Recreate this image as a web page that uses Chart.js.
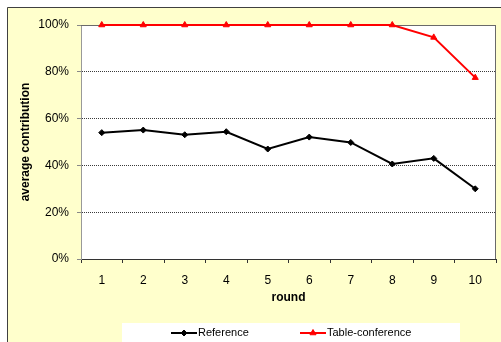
<!DOCTYPE html>
<html>
<head>
<meta charset="utf-8">
<script src="https://cdn.jsdelivr.net/npm/chart.js@4/dist/chart.umd.min.js"></script>
<style>
  html, body { margin: 0; padding: 0; background: #ffffff; }
  #wrap { width: 501px; height: 342px; position: relative; }
</style>
</head>
<body>
<div id="wrap"><canvas id="c" width="501" height="342"></canvas></div>
<script>
// Rounds of the game and average contribution per round (percent)
const rounds = ['1', '2', '3', '4', '5', '6', '7', '8', '9', '10'];
const referenceValues = [54.0, 55.1, 53.1, 54.4, 47.0, 52.1, 49.8, 40.6, 43.0, 30.0];
const tableConferenceValues = [100, 100, 100, 100, 100, 100, 100, 100, 94.7, 77.5];
const seriesNames = ['Reference', 'Table-conference'];
const yTickValues = [0, 20, 40, 60, 80, 100];

const FONT = "'Liberation Sans', Arial, sans-serif";
Chart.defaults.font.family = FONT;
Chart.defaults.color = '#000000';

// Pale yellow chart panel, white plot area and its frame
const panelPlugin = {
  id: 'panel',
  beforeDraw(chart) {
    const { ctx, chartArea: a } = chart;
    ctx.save();
    ctx.fillStyle = '#ffffff';
    ctx.fillRect(0, 0, chart.width, chart.height);
    ctx.fillStyle = '#ffffcc';
    ctx.fillRect(7, 7, chart.width - 7, chart.height - 7);
    ctx.strokeStyle = '#404040';
    ctx.lineWidth = 1;
    ctx.beginPath();
    ctx.moveTo(7.5, chart.height);
    ctx.lineTo(7.5, 7.5);
    ctx.lineTo(chart.width, 7.5);
    ctx.stroke();
    ctx.fillStyle = '#ffffff';
    ctx.fillRect(a.left, a.top, a.right - a.left, a.bottom - a.top);
    ctx.restore();
  },
  beforeDatasetsDraw(chart) {
    const { ctx, chartArea: a } = chart;
    ctx.save();
    ctx.strokeStyle = '#6a6a6a';
    ctx.lineWidth = 1;
    ctx.beginPath();
    ctx.moveTo(Math.round(a.right) - 0.5, a.top);
    ctx.lineTo(Math.round(a.right) - 0.5, a.bottom);
    ctx.moveTo(a.left, Math.round(a.top) + 0.5);
    ctx.lineTo(a.right, Math.round(a.top) + 0.5);
    ctx.stroke();
    ctx.restore();
  }
};

// Legend row on a white strip along the bottom
const legendPlugin = {
  id: 'legendStrip',
  afterDraw(chart) {
    const { ctx } = chart;
    ctx.save();
    ctx.fillStyle = '#ffffff';
    ctx.fillRect(122, 323, 338, 19);
    const entries = [
      { x: 171, ds: chart.data.datasets[0] },
      { x: 300, ds: chart.data.datasets[1] }
    ];
    const y = 333;
    entries.forEach(({ x, ds }) => {
      ctx.strokeStyle = ds.borderColor;
      ctx.lineWidth = 2;
      ctx.beginPath();
      ctx.moveTo(x, y);
      ctx.lineTo(x + 26, y);
      ctx.stroke();
      ctx.fillStyle = ds.pointBackgroundColor;
      ctx.strokeStyle = ds.pointBorderColor;
      ctx.lineWidth = 1;
      Chart.helpers.drawPoint(ctx, {
        pointStyle: ds.pointStyle,
        radius: ds.pointRadius,
        borderWidth: 1
      }, x + 13, y);
      ctx.fillStyle = '#000000';
      ctx.font = '11px ' + FONT;
      ctx.textBaseline = 'middle';
      ctx.textAlign = 'left';
      ctx.fillText(ds.label, x + 27, y);
    });
    ctx.restore();
  }
};

new Chart(document.getElementById('c'), {
  type: 'line',
  data: {
    labels: rounds,
    datasets: [
      {
        label: seriesNames[0],
        data: referenceValues,
        borderColor: '#000000',
        backgroundColor: '#000000',
        pointBackgroundColor: '#000000',
        pointBorderColor: '#000000',
        borderWidth: 2,
        pointStyle: 'rectRot',
        pointRadius: 3,
        pointBorderWidth: 1,
        tension: 0,
        clip: false
      },
      {
        label: seriesNames[1],
        data: tableConferenceValues,
        borderColor: '#ff0000',
        backgroundColor: '#ff0000',
        pointBackgroundColor: '#ff0000',
        pointBorderColor: '#ff0000',
        borderWidth: 2,
        pointStyle: 'triangle',
        pointRadius: 3.5,
        pointBorderWidth: 1,
        tension: 0,
        clip: false
      }
    ]
  },
  options: {
    responsive: false,
    devicePixelRatio: 1,
    animation: false,
    layout: { padding: { top: 25, right: 3, left: 0, bottom: 0 } },
    plugins: {
      legend: { display: false },
      tooltip: { enabled: false },
      title: { display: false }
    },
    scales: {
      x: {
        type: 'category',
        offset: true,
        grid: {
          offset: true,
          drawOnChartArea: false,
          drawTicks: true,
          tickLength: 4,
          tickColor: '#333333'
        },
        border: { display: true, color: '#333333', width: 1 },
        ticks: { padding: 10, font: { size: 12 }, color: '#000000', maxRotation: 0 },
        title: {
          display: true,
          text: 'round',
          font: { size: 12, weight: 'bold' },
          padding: { top: 0, bottom: 37 }
        },
        afterFit(scale) { scale.height = 83; }
      },
      y: {
        min: 0,
        max: 100,
        afterBuildTicks(scale) { scale.ticks = yTickValues.map(v => ({ value: v })); },
        grid: {
          color: '#3a3a3a',
          lineWidth: 1,
          drawTicks: true,
          tickLength: 4,
          tickColor: '#888888'
        },
        border: { display: true, color: '#999999', width: 1, dash: [1, 1] },
        ticks: {
          padding: 8,
          font: { size: 12 },
          color: '#000000',
          callback: v => v + '%'
        },
        title: {
          display: true,
          text: 'average contribution',
          font: { size: 12, weight: 'bold' },
          padding: { top: 18, bottom: 0 }
        },
        afterFit(scale) { scale.width = 81; }
      }
    }
  },
  plugins: [panelPlugin, legendPlugin]
});
</script>
</body>
</html>
